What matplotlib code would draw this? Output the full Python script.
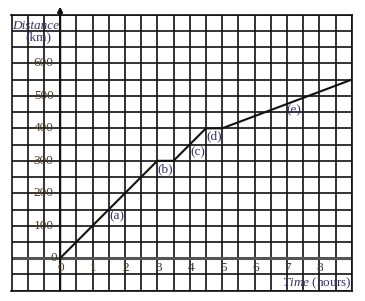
import numpy as np
import matplotlib
matplotlib.use("Agg")
import matplotlib.pyplot as plt
from matplotlib.ticker import MultipleLocator

# journey data: time (hours) vs distance (km)
time_h = [0, 3, 3.5, 4.5, 5, 9]
dist_km = [0, 300, 300, 400, 400, 550]

seg_labels = ["(a)", "(b)", "(c)", "(d)", "(e)"]
seg_label_x = [1.75, 3.25, 4.25, 4.75, 7.2]
seg_label_y = [130, 275, 325, 375, 455]

x_tick_vals = [0, 1, 2, 3, 4, 5, 6, 7, 8]
y_tick_vals = [0, 100, 200, 300, 400, 500, 600]

plt.rcParams["font.family"] = ["Liberation Serif", "DejaVu Serif"]
plt.rcParams["font.size"] = 9.5
plt.rcParams["mathtext.fontset"] = "custom"
plt.rcParams["mathtext.it"] = "Liberation Serif:italic"
plt.rcParams["mathtext.rm"] = "Liberation Serif"

fig = plt.figure(figsize=(3.65, 3.01), dpi=100)
ax = fig.add_axes([11.5 / 365, 10.3 / 301, 340.2 / 365, 276 / 301])
ax.set_xlim(-1.5, 9)
ax.set_ylim(-100, 750)

# grid every half hour / 50 km
ax.xaxis.set_major_locator(MultipleLocator(0.5))
ax.yaxis.set_major_locator(MultipleLocator(50))
ax.grid(True, color="#111111", linewidth=1.2)
ax.tick_params(length=0, labelbottom=False, labelleft=False)
for s in ax.spines.values():
    s.set_linewidth(1.2)
    s.set_color("#111111")

# axes lines
ax.axhline(0, color="#555555", linewidth=2.2)
ax.annotate("", xy=(0, 775), xytext=(0, -100),
            arrowprops=dict(arrowstyle="-|>", color="#111111", lw=1.6,
                            mutation_scale=7, shrinkA=0, shrinkB=0),
            annotation_clip=False)

ax.plot(time_h, dist_km, color="#111111", linewidth=1.5, zorder=5)

tick_col = "#4a3b2a"
for v in x_tick_vals:
    ax.text(v + 0.03, -12, str(v), ha="center", va="top", color=tick_col)
for v in y_tick_vals:
    ax.text(-0.2 if v else -0.1, v, str(v), ha="right", va="center", color=tick_col)

lab_col = "#3a2f6a"
for t, x, y in zip(seg_labels, seg_label_x, seg_label_y):
    ax.text(x, y, t, ha="center", va="center", color=lab_col)

ax.text(-1.48, 715, "Distance", style="italic", ha="left", va="center", color=lab_col)
ax.text(-1.08, 680, "(km)", ha="left", va="center", color=lab_col)
ax.text(8.98, -78, "$\\mathit{Time}$ (hours)", ha="right", va="center", color=lab_col)

fig.savefig("out.png", dpi=100)
